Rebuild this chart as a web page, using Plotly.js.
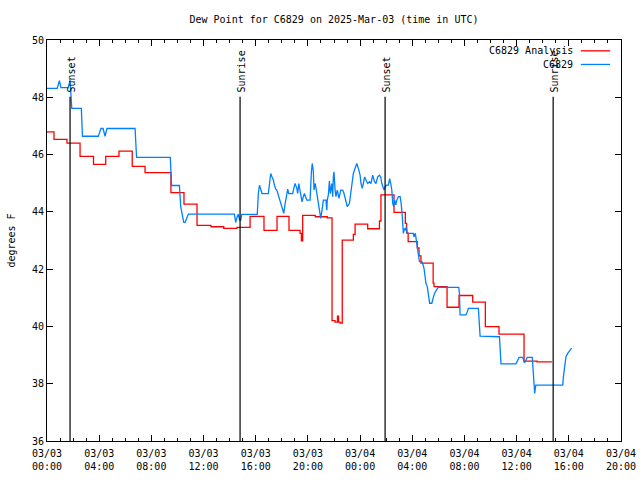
<!DOCTYPE html>
<html>
<head>
<meta charset="utf-8">
<script src="https://cdn.plot.ly/plotly-3.0.1.min.js"></script>
<style>html,body{margin:0;padding:0;background:#fff;}#chart{width:640px;height:480px;}</style>
</head>
<body>
<div id="chart"></div>
<script>
// Minutes after 2025-03-03 00:00 UTC
const analysisMinutes = [0,32,92,152,214,270,331,392,451,570,630,690,754,813,874,934,998,1058,1113,1164,1170,1176,1234,1289,1311,1325,1336,1341,1348,1358,1409,1417,1475,1529,1536,1596,1648,1654,1661,1703,1711,1720,1776,1780,1840,1895,1958,2016,2079,2194,2254,2322];
const analysisValues = [46.79,46.53,46.40,45.94,45.66,45.94,46.12,45.59,45.37,44.67,44.27,43.53,43.48,43.42,43.46,43.84,43.35,43.84,43.35,43.25,42.99,43.88,43.83,43.79,40.20,40.15,40.36,40.15,40.12,43.01,43.21,43.57,43.41,43.68,44.59,43.98,43.60,43.26,42.96,42.74,42.46,42.21,41.51,41.39,40.67,41.08,40.85,39.99,39.73,38.79,38.76,38.76];

const obsMinutes = [0,47,57,64,98,106,114,158,163,236,241,248,258,267,276,405,412,567,573,609,615,622,629,635,643,650,862,868,874,880,886,891,896,967,972,977,983,989,1018,1026,1029,1035,1041,1046,1052,1057,1064,1072,1078,1082,1089,1093,1098,1103,1107,1112,1130,1135,1141,1149,1153,1158,1164,1168,1173,1179,1184,1195,1210,1216,1220,1225,1228,1234,1241,1247,1253,1259,1265,1271,1283,1287,1289,1294,1299,1303,1310,1314,1317,1320,1325,1329,1335,1343,1351,1360,1366,1375,1381,1391,1398,1404,1409,1417,1425,1432,1440,1444,1450,1455,1461,1467,1475,1483,1490,1498,1506,1513,1521,1529,1535,1540,1545,1550,1555,1563,1570,1576,1581,1586,1590,1595,1599,1604,1609,1616,1624,1628,1633,1636,1639,1644,1648,1653,1657,1685,1688,1694,1699,1703,1707,1710,1713,1724,1728,1734,1739,1743,1749,1756,1760,1770,1774,1780,1786,1793,1799,1894,1897,1900,1927,1933,1938,1984,1987,1992,2081,2088,2157,2167,2171,2188,2196,2203,2209,2232,2237,2243,2248,2372,2375,2380,2387,2395,2406,2413];
const obsValues = [48.31,48.31,48.58,48.34,48.34,48.60,47.61,47.61,46.64,46.64,46.75,46.91,46.91,46.64,46.91,46.91,45.90,45.90,44.92,44.92,44.18,43.83,43.63,43.63,43.78,43.92,43.92,43.63,43.81,43.92,43.71,43.71,43.91,43.91,44.64,44.93,44.79,44.64,44.64,45.17,45.34,45.22,45.11,44.93,44.79,44.76,44.59,44.41,44.30,44.12,43.95,44.18,44.41,44.64,44.79,44.64,44.64,44.82,44.99,44.82,44.64,44.99,44.76,44.53,44.35,44.53,44.64,44.41,44.41,45.40,45.69,45.40,44.76,44.99,44.64,44.35,44.06,43.77,44.06,44.41,44.41,44.06,44.41,44.59,45.08,44.64,44.99,44.53,45.22,45.40,44.76,44.53,44.76,44.47,44.76,44.76,44.64,44.41,44.18,44.30,44.64,44.99,45.34,45.52,45.69,45.52,45.28,44.99,44.82,44.99,45.22,45.11,44.99,45.05,44.99,45.28,45.05,44.99,45.22,45.28,45.22,44.99,44.82,44.76,44.88,44.93,44.93,45.16,44.99,44.76,44.30,44.18,44.41,44.24,44.41,44.53,44.53,44.35,43.95,43.60,43.25,43.42,43.36,43.48,43.25,43.25,43.13,43.25,42.96,42.90,42.61,42.43,42.26,42.26,42.20,42.03,41.73,41.50,41.39,41.04,40.81,40.81,40.98,41.10,41.21,41.27,41.36,41.36,41.15,40.40,40.40,40.51,40.63,40.63,40.22,39.66,39.64,38.69,38.69,38.83,38.92,38.92,38.73,38.83,38.92,38.92,38.48,37.66,37.95,37.95,38.24,38.65,38.94,39.06,39.18,39.24];

const eventLabels = ['Sunset','Sunrise','Sunset','Sunrise'];
const eventMinutes = [106, 888, 1555, 2328];

const seriesNames = ['C6829 Analysis', 'C6829'];
const seriesColors = ['#ff0000', '#0080ff'];

const BASE = Date.UTC(2025, 2, 3, 0, 0, 0);
function toDate(m) {
  const d = new Date(BASE + Math.round(m * 60000));
  return d.toISOString().slice(0, 19).replace('T', ' ');
}

const FONT = 'DejaVu Sans Mono, Liberation Mono, monospace';

const traces = [
  {
    x: analysisMinutes.map(toDate), y: analysisValues,
    type: 'scatter', mode: 'lines', name: seriesNames[0],
    line: {color: seriesColors[0], width: 1.3, shape: 'hv'},
    hoverinfo: 'skip'
  },
  {
    x: obsMinutes.map(toDate), y: obsValues,
    type: 'scatter', mode: 'lines', name: seriesNames[1],
    line: {color: seriesColors[1], width: 1.3},
    hoverinfo: 'skip'
  }
];

const shapes = [];
const annotations = [];
eventMinutes.forEach((m, i) => {
  shapes.push({type: 'line', xref: 'x', yref: 'y', x0: toDate(m), x1: toDate(m), y0: 36, y1: 48.02,
    line: {color: '#000', width: 1.2}});
  annotations.push({xref: 'x', yref: 'y', x: toDate(m), y: 48.1, text: eventLabels[i],
    textangle: -90, showarrow: false, xanchor: 'center', yanchor: 'bottom', xshift: 1,
    font: {family: FONT, size: 10, color: '#000'}});
});

// custom legend (top right, text then line sample)
const legendY = [0.973, 0.939];
seriesNames.forEach((name, i) => {
  annotations.push({xref: 'paper', yref: 'paper', x: 0.919, y: legendY[i], text: name,
    showarrow: false, xanchor: 'right', yanchor: 'middle',
    font: {family: FONT, size: 10, color: '#000'}});
  shapes.push({type: 'line', xref: 'paper', yref: 'paper', x0: 0.930, x1: 0.981,
    y0: legendY[i], y1: legendY[i], line: {color: seriesColors[i], width: 1.3}});
});

const layout = {
  width: 640, height: 480,
  margin: {l: 47, r: 19, t: 40, b: 39, pad: 0},
  paper_bgcolor: '#fff', plot_bgcolor: '#fff',
  showlegend: false,
  font: {family: FONT, size: 10, color: '#000'},
  title: {text: 'Dew Point for C6829 on 2025-Mar-03 (time in UTC)', x: 0.5, xref: 'paper',
    y: 0.96, yref: 'container', yanchor: 'middle', font: {family: FONT, size: 10, color: '#000'}},
  xaxis: {
    type: 'date',
    range: ['2025-03-03 00:00:00', '2025-03-04 20:00:00'],
    tick0: '2025-03-03 00:00:00', dtick: 4 * 3600000,
    tickformat: '%m/%d<br>%H:%M',
    ticks: 'inside', ticklen: 6, tickcolor: '#000', tickwidth: 1,
    ticklabelstandoff: 3,
    minor: {dtick: 3600000, ticks: 'inside', ticklen: 3, tickcolor: '#000', tickwidth: 1, showgrid: false},
    showline: true, linecolor: '#000', linewidth: 1, mirror: 'ticks',
    showgrid: false, zeroline: false,
    tickfont: {family: FONT, size: 10, color: '#000'}
  },
  yaxis: {
    range: [36, 50], dtick: 2, tick0: 36,
    ticks: 'inside', ticklen: 6, tickcolor: '#000', tickwidth: 1,
    showline: true, linecolor: '#000', linewidth: 1, mirror: 'ticks',
    showgrid: false, zeroline: false,
    tickfont: {family: FONT, size: 10, color: '#000'},
    title: {text: 'degrees F', font: {family: FONT, size: 10, color: '#000'}, standoff: 14}
  },
  shapes: shapes,
  annotations: annotations
};

Plotly.newPlot('chart', traces, layout, {staticPlot: true, displayModeBar: false});
</script>
</body>
</html>
